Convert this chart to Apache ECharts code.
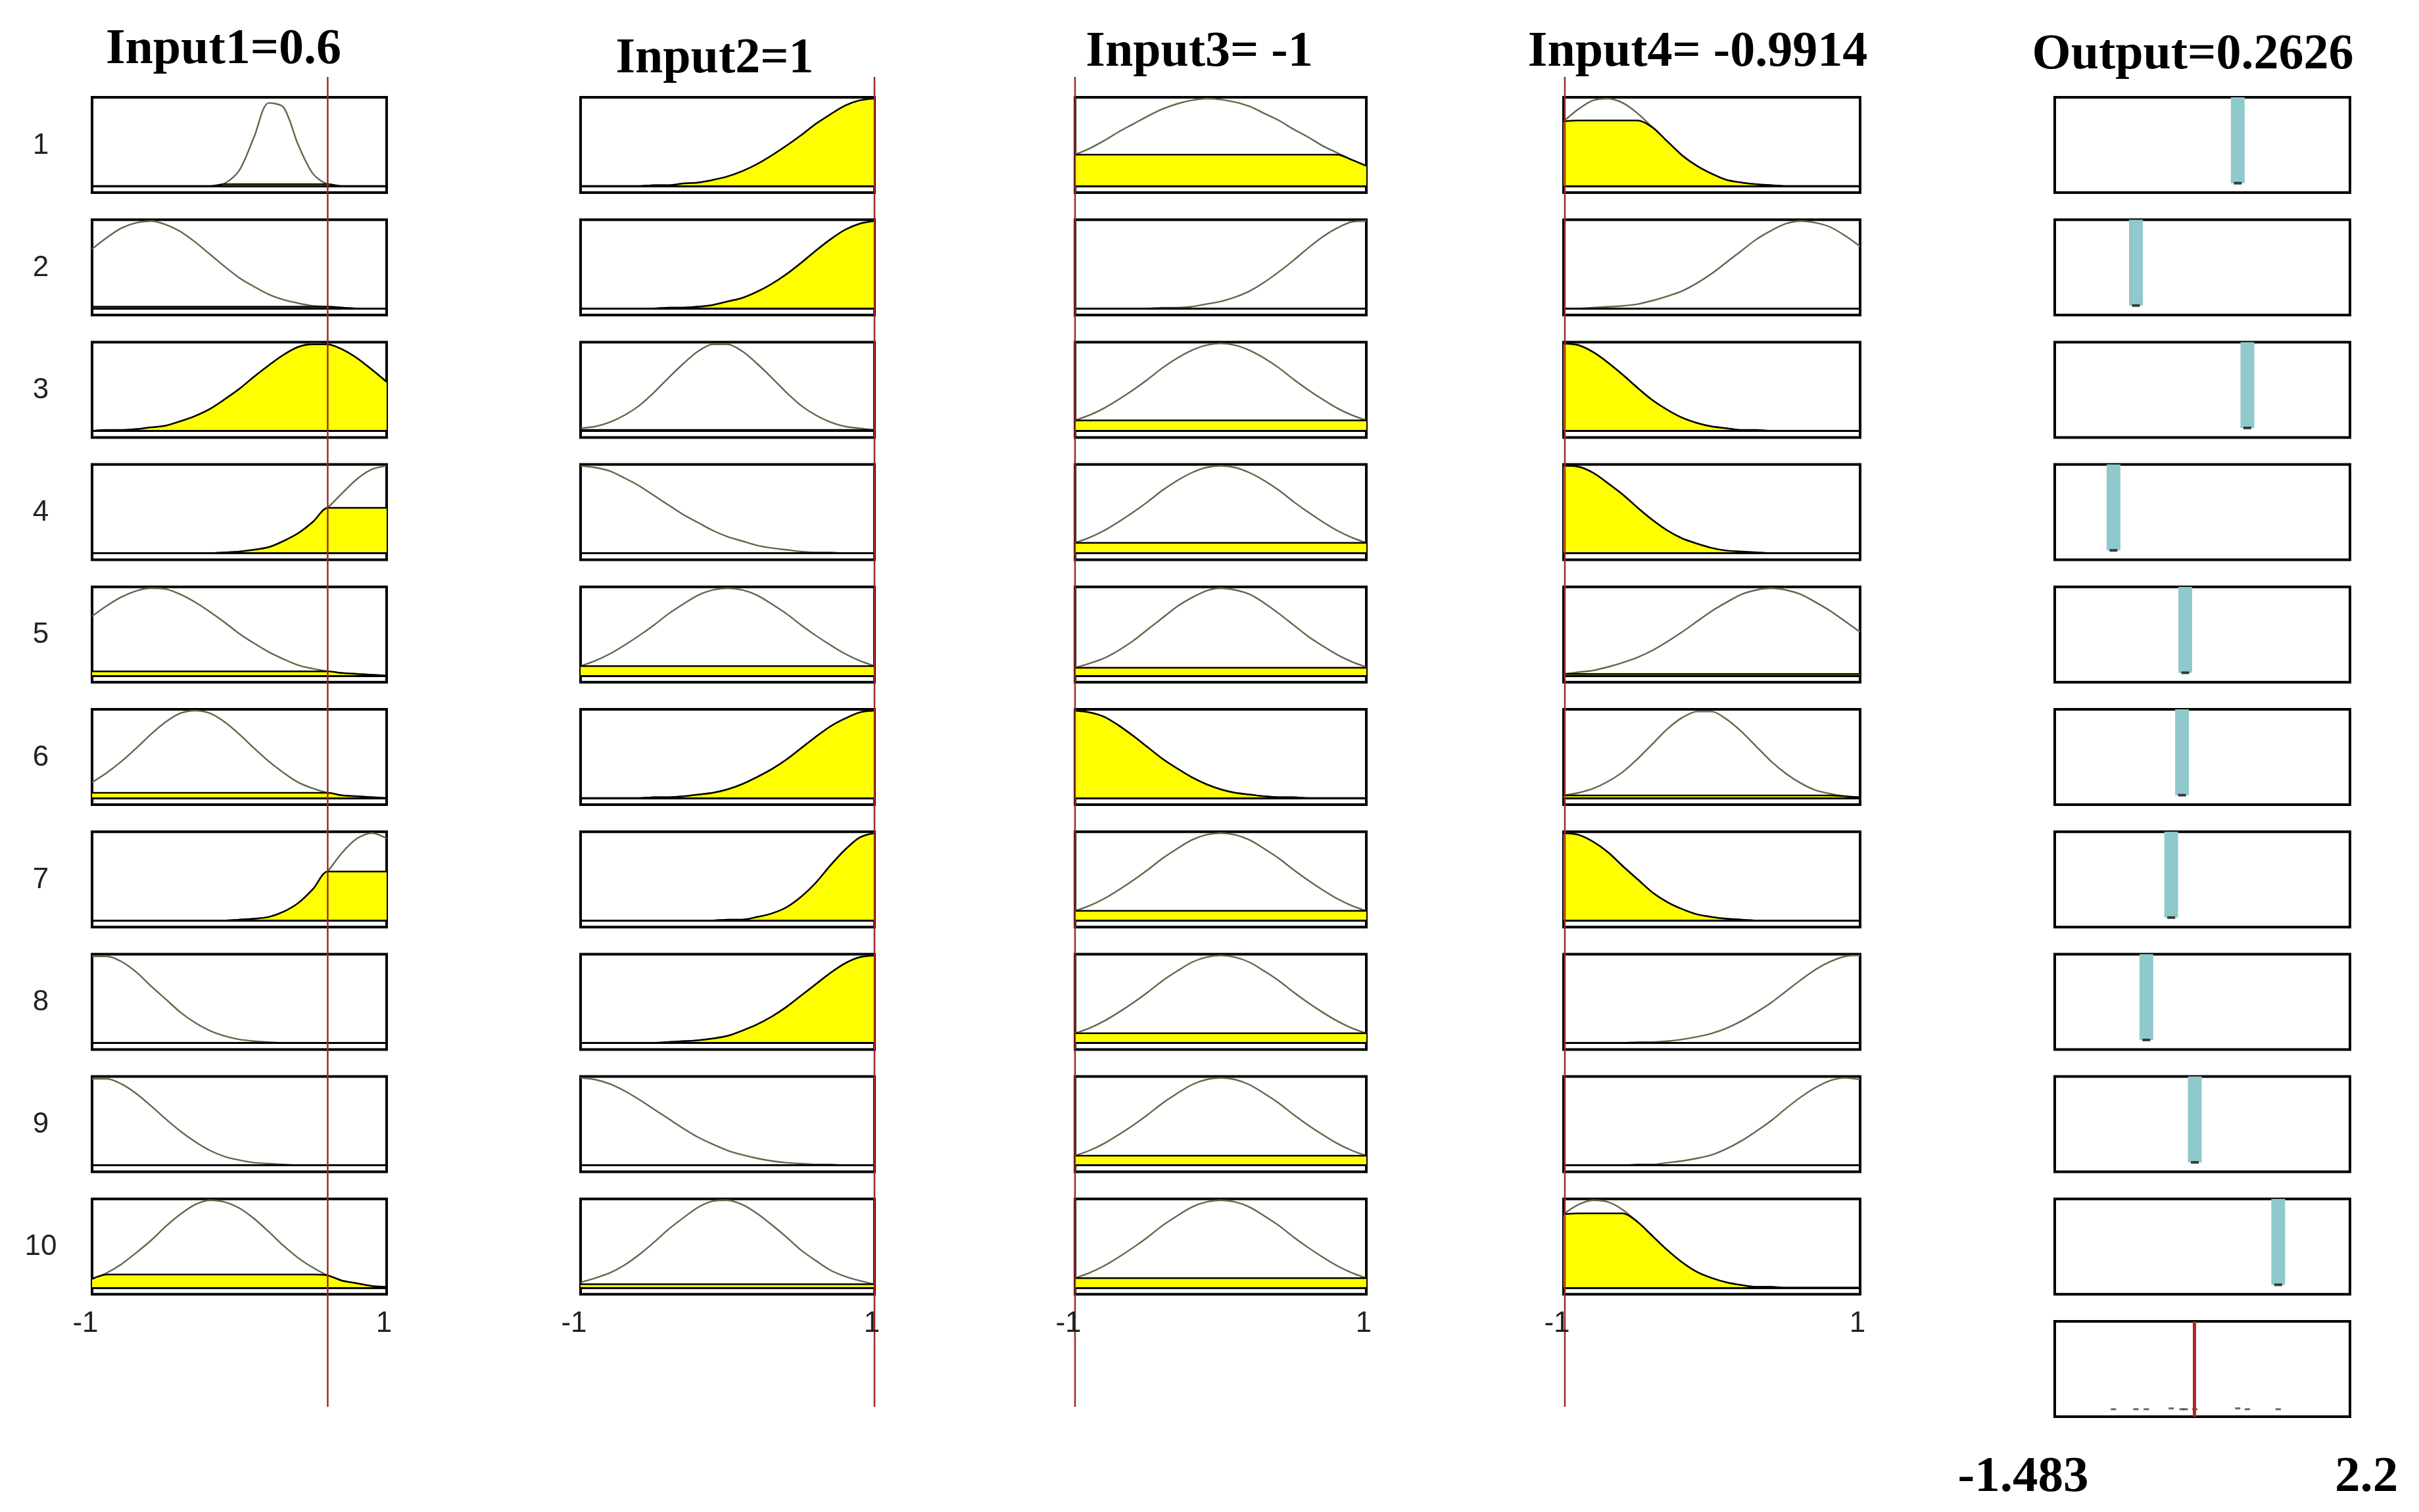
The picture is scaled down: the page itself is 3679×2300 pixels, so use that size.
<!DOCTYPE html>
<html><head><meta charset="utf-8">
<script src="https://cdn.jsdelivr.net/npm/echarts@6/dist/echarts.min.js"></script>
<style>html,body{margin:0;padding:0;background:#fff}#c{width:3679px;height:2300px}</style>
</head><body><div id="c"></div>
<script>
// ---------------- DATA ----------------
const xSamples = [-1,-0.9,-0.8,-0.7,-0.6,-0.5,-0.4,-0.3,-0.2,-0.1,0,0.1,0.2,0.3,0.4,0.5,0.6,0.7,0.8,0.9,1];

const inputTitles = ['Input1=0.6', 'Input2=1', 'Input3= -1', 'Input4= -0.9914'];
const outputTitle = 'Output=0.2626';
const inputValues = [0.6, 1, -1, -0.9914];
const outputValue = 0.2626;
const outputRange = [-1.483, 2.2];
const ruleLabels = ['1','2','3','4','5','6','7','8','9','10'];
const inputTickLabels = ['-1', '1'];
const outputTickLabels = ['-1.483', '2.2'];

// membership function values sampled at xSamples (rule 1..10)
const input1MF = [
  [0,0,0,0,0,0,0,0,0,0.03,0.18,0.56,0.95,0.90,0.47,0.14,0.02,0,0,0,0],
  [0.68,0.81,0.92,0.98,1.00,0.96,0.88,0.76,0.62,0.48,0.35,0.25,0.16,0.10,0.06,0.03,0.02,0.01,0,0,0],
  [0,0.01,0.01,0.02,0.04,0.06,0.11,0.17,0.25,0.36,0.48,0.62,0.75,0.87,0.96,1.00,0.99,0.93,0.83,0.70,0.56],
  [0,0,0,0,0,0,0,0,0,0.01,0.02,0.04,0.07,0.14,0.23,0.36,0.52,0.69,0.85,0.96,1.00],
  [0.68,0.80,0.90,0.97,1.00,0.99,0.93,0.84,0.73,0.61,0.48,0.37,0.27,0.19,0.12,0.08,0.05,0.03,0.02,0.01,0],
  [0.18,0.29,0.42,0.57,0.73,0.87,0.97,1.00,0.97,0.87,0.73,0.57,0.42,0.29,0.18,0.11,0.06,0.03,0.02,0.01,0],
  [0,0,0,0,0,0,0,0,0,0,0.01,0.02,0.04,0.10,0.20,0.36,0.56,0.78,0.94,1.00,0.94],
  [0.99,0.99,0.93,0.81,0.65,0.50,0.35,0.23,0.14,0.08,0.04,0.02,0.01,0,0,0,0,0,0,0,0],
  [0.99,0.99,0.93,0.82,0.68,0.53,0.39,0.27,0.17,0.10,0.06,0.03,0.02,0.01,0,0,0,0,0,0,0],
  [0.10,0.17,0.27,0.40,0.54,0.70,0.84,0.95,1.00,0.98,0.91,0.79,0.64,0.48,0.34,0.23,0.14,0.08,0.05,0.02,0.01]
];
const input2MF = [
  [0,0,0,0,0,0.01,0.01,0.03,0.04,0.07,0.11,0.17,0.25,0.35,0.46,0.58,0.71,0.82,0.92,0.98,1.00],
  [0,0,0,0,0,0,0.01,0.01,0.02,0.04,0.08,0.12,0.19,0.28,0.39,0.52,0.66,0.79,0.90,0.97,1.00],
  [0.03,0.05,0.10,0.18,0.29,0.44,0.61,0.77,0.91,0.99,0.99,0.91,0.77,0.61,0.44,0.29,0.18,0.10,0.05,0.03,0.01],
  [1.00,0.98,0.94,0.86,0.77,0.66,0.55,0.44,0.35,0.26,0.19,0.14,0.09,0.06,0.04,0.02,0.01,0.01,0,0,0],
  [0.11,0.17,0.25,0.35,0.46,0.58,0.71,0.82,0.92,0.98,1.00,0.98,0.92,0.82,0.71,0.58,0.46,0.35,0.25,0.17,0.11],
  [0,0,0,0,0,0.01,0.01,0.02,0.04,0.06,0.10,0.16,0.24,0.33,0.44,0.57,0.70,0.82,0.91,0.98,1.00],
  [0,0,0,0,0,0,0,0,0,0,0.01,0.01,0.04,0.08,0.15,0.27,0.43,0.63,0.81,0.95,1.00],
  [0,0,0,0,0,0,0.01,0.02,0.03,0.05,0.08,0.14,0.21,0.30,0.41,0.54,0.67,0.80,0.91,0.98,1.00],
  [1.00,0.98,0.93,0.85,0.75,0.64,0.53,0.42,0.32,0.24,0.17,0.12,0.08,0.05,0.03,0.02,0.01,0.01,0,0,0],
  [0.06,0.11,0.17,0.26,0.38,0.52,0.67,0.80,0.92,0.99,1.00,0.95,0.85,0.72,0.58,0.43,0.31,0.20,0.13,0.08,0.04]
];
const input3MF = [
  [0.36,0.43,0.52,0.62,0.71,0.80,0.88,0.94,0.98,1.00,0.99,0.96,0.91,0.83,0.75,0.65,0.56,0.46,0.38,0.30,0.23],
  [0,0,0,0,0,0,0.01,0.01,0.02,0.05,0.08,0.13,0.20,0.30,0.42,0.55,0.69,0.82,0.92,0.99,1.00],
  [0.12,0.18,0.26,0.36,0.47,0.59,0.72,0.83,0.92,0.98,1.00,0.98,0.92,0.83,0.72,0.59,0.47,0.36,0.26,0.18,0.12],
  [0.12,0.18,0.26,0.36,0.47,0.59,0.72,0.83,0.92,0.98,1.00,0.98,0.92,0.83,0.72,0.59,0.47,0.36,0.26,0.18,0.12],
  [0.09,0.14,0.20,0.29,0.40,0.53,0.66,0.79,0.89,0.97,1.00,0.98,0.93,0.83,0.71,0.58,0.45,0.34,0.24,0.16,0.10],
  [1.00,0.98,0.93,0.83,0.71,0.58,0.45,0.34,0.24,0.16,0.10,0.06,0.04,0.02,0.01,0.01,0,0,0,0,0],
  [0.11,0.17,0.25,0.35,0.46,0.58,0.71,0.82,0.92,0.98,1.00,0.98,0.92,0.82,0.71,0.58,0.46,0.35,0.25,0.17,0.11],
  [0.11,0.17,0.25,0.35,0.46,0.58,0.71,0.82,0.92,0.98,1.00,0.98,0.92,0.82,0.71,0.58,0.46,0.35,0.25,0.17,0.11],
  [0.11,0.17,0.25,0.35,0.46,0.58,0.71,0.82,0.92,0.98,1.00,0.98,0.92,0.82,0.71,0.58,0.46,0.35,0.25,0.17,0.11],
  [0.11,0.17,0.25,0.35,0.46,0.58,0.71,0.82,0.92,0.98,1.00,0.98,0.92,0.82,0.71,0.58,0.46,0.35,0.25,0.17,0.11]
];
const input4MF = [
  [0.74,0.88,0.98,1.00,0.95,0.83,0.67,0.51,0.35,0.23,0.14,0.07,0.04,0.02,0.01,0,0,0,0,0,0],
  [0,0,0.01,0.02,0.03,0.05,0.09,0.14,0.20,0.29,0.40,0.53,0.66,0.79,0.89,0.97,1.00,0.98,0.93,0.83,0.71],
  [1.00,0.98,0.90,0.78,0.64,0.49,0.35,0.24,0.15,0.09,0.05,0.03,0.01,0.01,0,0,0,0,0,0,0],
  [1.00,0.99,0.92,0.80,0.67,0.52,0.38,0.26,0.17,0.11,0.06,0.03,0.02,0.01,0,0,0,0,0,0,0],
  [0.02,0.04,0.06,0.10,0.15,0.21,0.29,0.39,0.50,0.62,0.74,0.84,0.93,0.98,1.00,0.98,0.93,0.84,0.74,0.62,0.50],
  [0.03,0.06,0.11,0.19,0.30,0.45,0.62,0.79,0.92,0.99,0.99,0.90,0.76,0.59,0.42,0.28,0.17,0.09,0.05,0.02,0.01],
  [1.00,0.98,0.90,0.78,0.62,0.47,0.32,0.21,0.13,0.07,0.04,0.02,0.01,0,0,0,0,0,0,0,0],
  [0,0,0,0,0,0.01,0.01,0.02,0.04,0.07,0.11,0.17,0.25,0.35,0.46,0.59,0.72,0.84,0.93,0.99,1.00],
  [0,0,0,0,0,0.01,0.01,0.03,0.05,0.08,0.12,0.19,0.28,0.39,0.51,0.65,0.78,0.89,0.97,1.00,0.98],
  [0.84,0.95,1.00,0.98,0.89,0.75,0.59,0.43,0.29,0.18,0.11,0.06,0.03,0.01,0.01,0,0,0,0,0,0]
];

// membership degree of each input in each rule (yellow fill level)
const input1Level = [0.02, 0.02, 0.99, 0.52, 0.05, 0.06, 0.56, 0, 0, 0.15];
const input2Level = [1, 1, 0.01, 0, 0.11, 1, 1, 1, 0, 0.04];
const input3Level = [0.36, 0, 0.12, 0.12, 0.09, 1, 0.11, 0.11, 0.11, 0.11];
const input4Level = [0.75, 0, 1, 1, 0.02, 0.03, 1, 0, 0, 0.85];

// rule (Sugeno constant) outputs and displayed heights
const ruleOutputs = [0.80, -0.47, 0.92, -0.75, 0.145, 0.105, -0.03, -0.34, 0.265, 1.305];
const ruleBarHeight = [1, 1, 1, 1, 1, 1, 1, 1, 1, 1];
const aggregateHeights = [0.02, 0.01, 0.01, 0.01, 0.01, 0.01, 0.02, 0.01, 0.01, 0.01];

// ---------------- LAYOUT ----------------
const L = {
  colLeft: [140, 883, 1635, 2378, 3125],
  colWidth: [448, 447, 443, 451, 449],
  rowTop: 148, rowPitch: 186.2, boxH: 145,
  cursorTop: 117, cursorBottom: 2140,
  titleX: [340, 1087, 1824, 2582, 3335],
  titleY: [76, 90, 80, 80, 84],
  rowLabelX: 62, tickY: 2014, outTickX: [3077, 3599], outTickY: 2248
};
const inYMin = -0.075, inYMax = 1.015;

const inputMFs = [input1MF, input2MF, input3MF, input4MF];
const inputLevels = [input1Level, input2Level, input3Level, input4Level];

const grids = [], xAxes = [], yAxes = [], series = [], graphics = [];
function addGrid(g, xa, ya) {
  const i = grids.length;
  grids.push(g);
  xAxes.push(Object.assign({gridIndex: i, type: 'value', show: false}, xa));
  yAxes.push(Object.assign({gridIndex: i, type: 'value', show: false}, ya));
  return i;
}
const boxStyle = {show: true, borderColor: '#000', borderWidth: 4, backgroundColor: '#fff'};

for (let c = 0; c < 4; c++) {
  for (let r = 0; r < 10; r++) {
    const gi = addGrid(Object.assign({left: L.colLeft[c], top: L.rowTop + r * L.rowPitch, width: L.colWidth[c], height: L.boxH}, boxStyle),
      {min: -1, max: 1}, {min: inYMin, max: inYMax});
    const mf = inputMFs[c][r], lv = inputLevels[c][r];
    series.push({type: 'line', xAxisIndex: gi, yAxisIndex: gi, silent: true, symbol: 'none', smooth: 0.3,
      data: xSamples.map((x, i) => [x, mf[i]]),
      lineStyle: {color: '#66664a', width: 2.4}, z: 3});
    series.push({type: 'line', xAxisIndex: gi, yAxisIndex: gi, silent: true, symbol: 'none', smooth: 0.3,
      data: xSamples.map((x, i) => [x, Math.min(mf[i], lv)]),
      lineStyle: {color: '#000', width: 2.5}, areaStyle: {color: '#ffff00', opacity: 1}, z: 4,
      markLine: {silent: true, symbol: 'none', label: {show: false}, animation: false,
        lineStyle: {color: '#000', width: 3, type: 'solid'}, data: [{yAxis: 0}]}});
  }
}

// output rule boxes
for (let r = 0; r < 10; r++) {
  const gi = addGrid(Object.assign({left: L.colLeft[4], top: L.rowTop + r * L.rowPitch, width: L.colWidth[4], height: L.boxH}, boxStyle),
    {min: outputRange[0], max: outputRange[1]}, {min: -0.11, max: 1.0});
  series.push({type: 'line', xAxisIndex: gi, yAxisIndex: gi, silent: true, symbol: 'none',
    data: [[ruleOutputs[r], 0], [ruleOutputs[r], ruleBarHeight[r]]],
    lineStyle: {color: '#90c9cb', width: 21, cap: 'butt'}, z: 3});
  series.push({type: 'scatter', xAxisIndex: gi, yAxisIndex: gi, silent: true, symbol: 'rect', symbolSize: [12, 4],
    data: [[ruleOutputs[r], 0]], itemStyle: {color: '#111'}, z: 4});
}

// aggregated output box
{
  const gi = addGrid(Object.assign({left: L.colLeft[4], top: L.rowTop + 10 * L.rowPitch, width: L.colWidth[4], height: L.boxH}, boxStyle),
    {min: outputRange[0], max: outputRange[1]}, {min: inYMin, max: inYMax});
  series.push({type: 'scatter', xAxisIndex: gi, yAxisIndex: gi, silent: true, symbol: 'rect', symbolSize: [8, 3],
    data: ruleOutputs.map((o, k) => [o, aggregateHeights[k]]), itemStyle: {color: '#444'}, z: 3,
    markLine: {silent: true, symbol: 'none', label: {show: false}, animation: false,
      lineStyle: {color: '#b0262c', width: 5, type: 'solid'}, data: [{xAxis: outputValue}]}});
}

// red input cursors
for (let c = 0; c < 4; c++) {
  const gi = addGrid({left: L.colLeft[c], top: L.cursorTop, width: L.colWidth[c], height: L.cursorBottom - L.cursorTop, show: false},
    {min: -1, max: 1}, {min: 0, max: 1});
  series.push({type: 'line', xAxisIndex: gi, yAxisIndex: gi, silent: true, symbol: 'none', clip: false,
    data: [[inputValues[c], 0], [inputValues[c], 1]], lineStyle: {color: '#9c2b2b', width: 2.5}, z: 10});
}

// texts
const titleFont = 'bold 76px "Liberation Serif", "Times New Roman", serif';
const smallFont = '44px "Liberation Sans Narrow", "Liberation Sans", Arial, sans-serif';
const allTitles = inputTitles.concat([outputTitle]);
allTitles.forEach((t, i) => graphics.push({type: 'text', x: L.titleX[i], y: L.titleY[i], z: 20,
  style: {text: t, font: titleFont, fill: '#000', textAlign: 'center', verticalAlign: 'middle', textVerticalAlign: 'middle'}}));
ruleLabels.forEach((t, r) => graphics.push({type: 'text', x: L.rowLabelX, y: L.rowTop + r * L.rowPitch + L.boxH / 2 + 1, z: 20,
  style: {text: t, font: smallFont, fill: '#222', textAlign: 'center', verticalAlign: 'middle', textVerticalAlign: 'middle'}}));
for (let c = 0; c < 4; c++) {
  graphics.push({type: 'text', x: L.colLeft[c] - 10, y: L.tickY, z: 20,
    style: {text: inputTickLabels[0], font: smallFont, fill: '#222', textAlign: 'center', verticalAlign: 'middle', textVerticalAlign: 'middle'}});
  graphics.push({type: 'text', x: L.colLeft[c] + L.colWidth[c] - 4, y: L.tickY, z: 20,
    style: {text: inputTickLabels[1], font: smallFont, fill: '#222', textAlign: 'center', verticalAlign: 'middle', textVerticalAlign: 'middle'}});
}
outputTickLabels.forEach((t, i) => graphics.push({type: 'text', x: L.outTickX[i], y: L.outTickY, z: 20,
  style: {text: t, font: 'bold 77px "Liberation Serif", "Times New Roman", serif', fill: '#000', textAlign: 'center', verticalAlign: 'middle', textVerticalAlign: 'middle'}}));

const chart = echarts.init(document.getElementById('c'), null, {renderer: 'canvas'});
chart.setOption({
  animation: false,
  backgroundColor: '#fff',
  grid: grids, xAxis: xAxes, yAxis: yAxes, series: series, graphic: graphics
});
</script>
</body></html>
